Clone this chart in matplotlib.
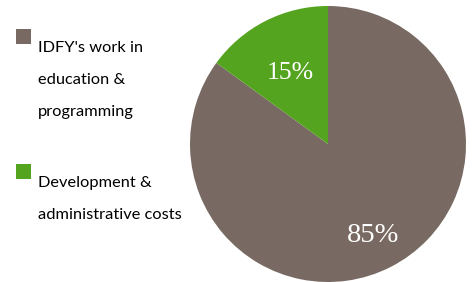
import numpy as np
import matplotlib
matplotlib.use("Agg")
import matplotlib.pyplot as plt
from matplotlib.patches import Rectangle

categories = ["IDFY's work in\neducation &\nprogramming", "Development &\nadministrative costs"]
values = [85, 15]
pct_labels = ["85%", "15%"]
colors = ["#786A62", "#55A41F"]
pct_dist = [0.72, 0.60]
pct_size = [20.5, 18.5]

W, H = 472, 282
fig = plt.figure(figsize=(W / 100, H / 100), dpi=100)

cx, cy, r = 328, 144, 138
ax = fig.add_axes([(cx - r) / W, (H - cy - r) / H, 2 * r / W, 2 * r / H])
wedges, _ = ax.pie(values, colors=colors, startangle=90, counterclock=False,
                   radius=1, wedgeprops=dict(linewidth=0))
ax.set_xlim(-1, 1)
ax.set_ylim(-1, 1)
ax.set_aspect("equal")
ax.axis("off")

for w, lab, d, s in zip(wedges, pct_labels, pct_dist, pct_size):
    th = np.deg2rad((w.theta1 + w.theta2) / 2)
    ax.text(d * np.cos(th), d * np.sin(th), lab, ha="center", va="center_baseline",
            color="white", fontsize=s, family="Liberation Serif")

# legend
sq_x, sq = 16, 15
sq_tops = [29, 164]
first_baselines = [52, 187]
line_gap = 32
for cat, col, top, base in zip(categories, colors, sq_tops, first_baselines):
    fig.add_artist(Rectangle((sq_x / W, (H - top - sq) / H), sq / W, sq / H,
                             transform=fig.transFigure, color=col, lw=0))
    for i, line in enumerate(cat.split("\n")):
        fig.text(38 / W, (H - base - i * line_gap) / H, line, ha="left",
                 va="baseline", fontsize=11.8, family="Lato", color="black")

fig.savefig("out.png", dpi=100)
